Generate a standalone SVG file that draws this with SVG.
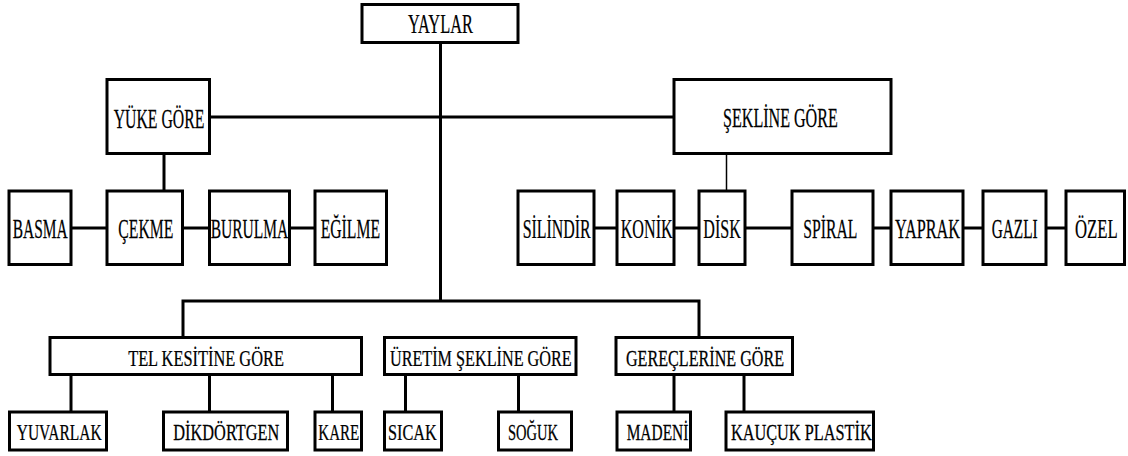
<svg xmlns="http://www.w3.org/2000/svg" width="1128" height="456" viewBox="0 0 1128 456">
  <style>
    .box { fill: #ffffff; stroke: #000000; stroke-width: 3; }
    .lbl { font-family: "Liberation Serif", "Times New Roman", serif; fill: #000000; text-anchor: middle; stroke: #000000; stroke-width: 0.25; }
    .big { font-size: 28px; }
    .small { font-size: 23px; }
    .wire { stroke: #000000; stroke-width: 3; fill: none; }
    .thin { stroke: #000000; stroke-width: 1.5; fill: none; }
  </style>
  <rect width="1128" height="456" fill="#ffffff"/>

  <!-- connectors -->
  <g id="connectors">
    <line class="wire" x1="440.5" y1="42" x2="440.5" y2="301" stroke-width="2.5"/>
    <line class="wire" x1="209" y1="117" x2="674" y2="117"/>
    <line class="wire" x1="164" y1="153" x2="164" y2="191"/>
    <line class="wire" x1="71" y1="228" x2="107" y2="228"/>
    <line class="wire" x1="182" y1="228" x2="209" y2="228"/>
    <line class="wire" x1="289" y1="228" x2="315" y2="228"/>
    <line class="thin" x1="726.5" y1="153" x2="726.5" y2="191"/>
    <line class="wire" x1="594" y1="228" x2="617" y2="228"/>
    <line class="wire" x1="674" y1="228" x2="699" y2="228"/>
    <line class="wire" x1="745" y1="228" x2="792" y2="228"/>
    <line class="wire" x1="873" y1="228" x2="891" y2="228"/>
    <line class="wire" x1="963" y1="228" x2="983" y2="228"/>
    <line class="wire" x1="1046" y1="228" x2="1066" y2="228"/>
    <polyline class="wire" points="183,337 183,301 699,301 699,337"/>
    <line class="wire" x1="71" y1="374" x2="71" y2="412"/>
    <line class="wire" x1="209.5" y1="374" x2="209.5" y2="412"/>
    <line class="wire" x1="332.5" y1="374" x2="332.5" y2="412"/>
    <line class="wire" x1="405.5" y1="374" x2="405.5" y2="412"/>
    <line class="wire" x1="518.5" y1="374" x2="518.5" y2="412"/>
    <line class="wire" x1="674" y1="374" x2="674" y2="412"/>
    <line class="wire" x1="744" y1="374" x2="744" y2="412"/>
  </g>

  <!-- root -->
  <g id="yaylar">
    <rect class="box" x="362" y="4.5" width="156" height="38"/>
    <text class="lbl big" transform="translate(440.5,33) scale(0.557,1)" textLength="116.6" lengthAdjust="spacingAndGlyphs">YAYLAR</text>
  </g>

  <!-- second level -->
  <g id="yuke-gore">
    <rect class="box" x="107" y="79.5" width="102.5" height="74"/>
    <text class="lbl big" transform="translate(159,127.5) scale(0.563,1)" textLength="161" lengthAdjust="spacingAndGlyphs">YÜKE GÖRE</text>
  </g>
  <g id="sekline-gore">
    <rect class="box" x="674" y="79.5" width="217" height="74"/>
    <text class="lbl big" transform="translate(780.4,127) scale(0.574,1)" textLength="199.9" lengthAdjust="spacingAndGlyphs">ŞEKLİNE GÖRE</text>
  </g>

  <!-- load types -->
  <g id="basma">
    <rect class="box" x="9" y="191" width="62" height="73.5"/>
    <text class="lbl big" transform="translate(40.2,237.5) scale(0.552,1)" textLength="99.6" lengthAdjust="spacingAndGlyphs">BASMA</text>
  </g>
  <g id="cekme">
    <rect class="box" x="107" y="191" width="75.5" height="73.5"/>
    <text class="lbl big" transform="translate(145.8,237.5) scale(0.561,1)" textLength="98" lengthAdjust="spacingAndGlyphs">ÇEKME</text>
  </g>
  <g id="burulma">
    <rect class="box" x="209.5" y="191" width="80" height="73.5"/>
    <text class="lbl big" transform="translate(249.5,237.5) scale(0.554,1)" textLength="140" lengthAdjust="spacingAndGlyphs">BURULMA</text>
  </g>
  <g id="egilme">
    <rect class="box" x="315" y="191" width="71.5" height="73.5"/>
    <text class="lbl big" transform="translate(350.3,237.5) scale(0.561,1)" textLength="105.8" lengthAdjust="spacingAndGlyphs">EĞİLME</text>
  </g>

  <!-- shape types -->
  <g id="silindir">
    <rect class="box" x="518" y="191" width="76" height="73.5"/>
    <text class="lbl big" transform="translate(556.7,237.5) scale(0.568,1)" textLength="119.8" lengthAdjust="spacingAndGlyphs">SİLİNDİR</text>
  </g>
  <g id="konik">
    <rect class="box" x="617" y="191" width="57" height="73.5"/>
    <text class="lbl big" transform="translate(646.7,237.5) scale(0.577,1)" textLength="90.2" lengthAdjust="spacingAndGlyphs">KONİK</text>
  </g>
  <g id="disk">
    <rect class="box" x="699" y="191" width="46" height="73.5"/>
    <text class="lbl big" transform="translate(722,237.5) scale(0.573,1)" textLength="65.3" lengthAdjust="spacingAndGlyphs">DİSK</text>
  </g>
  <g id="spiral">
    <rect class="box" x="792" y="191" width="81" height="73.5"/>
    <text class="lbl big" transform="translate(830.3,237.5) scale(0.56,1)" textLength="96.5" lengthAdjust="spacingAndGlyphs">SPİRAL</text>
  </g>
  <g id="yaprak">
    <rect class="box" x="891" y="191" width="72" height="73.5"/>
    <text class="lbl big" transform="translate(927.5,237.5) scale(0.565,1)" textLength="115.1" lengthAdjust="spacingAndGlyphs">YAPRAK</text>
  </g>
  <g id="gazli">
    <rect class="box" x="983" y="191" width="63" height="73.5"/>
    <text class="lbl big" transform="translate(1014.7,237.5) scale(0.548,1)" textLength="84" lengthAdjust="spacingAndGlyphs">GAZLI</text>
  </g>
  <g id="ozel">
    <rect class="box" x="1066" y="191" width="58.5" height="73.5"/>
    <text class="lbl big" transform="translate(1096.3,237.5) scale(0.597,1)" textLength="71.5" lengthAdjust="spacingAndGlyphs">ÖZEL</text>
  </g>

  <!-- third level -->
  <g id="tel-kesitine-gore">
    <rect class="box" x="50" y="337.5" width="311.5" height="37"/>
    <text class="lbl small" transform="translate(206,366) scale(0.709,1)" textLength="219.7" lengthAdjust="spacingAndGlyphs">TEL KESİTİNE GÖRE</text>
  </g>
  <g id="uretim-sekline-gore">
    <rect class="box" x="384.5" y="337.5" width="191.5" height="37"/>
    <text class="lbl small" transform="translate(480.8,366) scale(0.704,1)" textLength="258.1" lengthAdjust="spacingAndGlyphs">ÜRETİM ŞEKLİNE GÖRE</text>
  </g>
  <g id="gereclerine-gore">
    <rect class="box" x="616" y="337.5" width="176.5" height="37"/>
    <text class="lbl small" transform="translate(705,366) scale(0.701,1)" textLength="225.5" lengthAdjust="spacingAndGlyphs">GEREÇLERİNE GÖRE</text>
  </g>

  <!-- leaves -->
  <g id="yuvarlak">
    <rect class="box" x="9.5" y="412" width="97" height="38"/>
    <text class="lbl small" transform="translate(59.2,440) scale(0.659,1)" textLength="129" lengthAdjust="spacingAndGlyphs">YUVARLAK</text>
  </g>
  <g id="dikdortgen">
    <rect class="box" x="163.5" y="412" width="124" height="38"/>
    <text class="lbl small" transform="translate(226.3,440) scale(0.703,1)" textLength="150.7" lengthAdjust="spacingAndGlyphs">DİKDÖRTGEN</text>
  </g>
  <g id="kare">
    <rect class="box" x="315" y="412" width="46.5" height="38"/>
    <text class="lbl small" transform="translate(338.8,440) scale(0.655,1)" textLength="62.6" lengthAdjust="spacingAndGlyphs">KARE</text>
  </g>
  <g id="sicak">
    <rect class="box" x="384.5" y="412" width="57" height="38"/>
    <text class="lbl small" transform="translate(412.3,440) scale(0.706,1)" textLength="69" lengthAdjust="spacingAndGlyphs">SICAK</text>
  </g>
  <g id="soguk">
    <rect class="box" x="498.5" y="412" width="73" height="38"/>
    <text class="lbl small" transform="translate(533,440) scale(0.631,1)" textLength="79.2" lengthAdjust="spacingAndGlyphs">SOĞUK</text>
  </g>
  <g id="madeni">
    <rect class="box" x="617" y="412" width="73.5" height="38"/>
    <text class="lbl small" transform="translate(657.5,440) scale(0.671,1)" textLength="92" lengthAdjust="spacingAndGlyphs">MADENİ</text>
  </g>
  <g id="kaucuk-plastik">
    <rect class="box" x="726" y="412" width="147.5" height="38"/>
    <text class="lbl small" transform="translate(801.3,440) scale(0.708,1)" textLength="198.7" lengthAdjust="spacingAndGlyphs">KAUÇUK PLASTİK</text>
  </g>
</svg>
